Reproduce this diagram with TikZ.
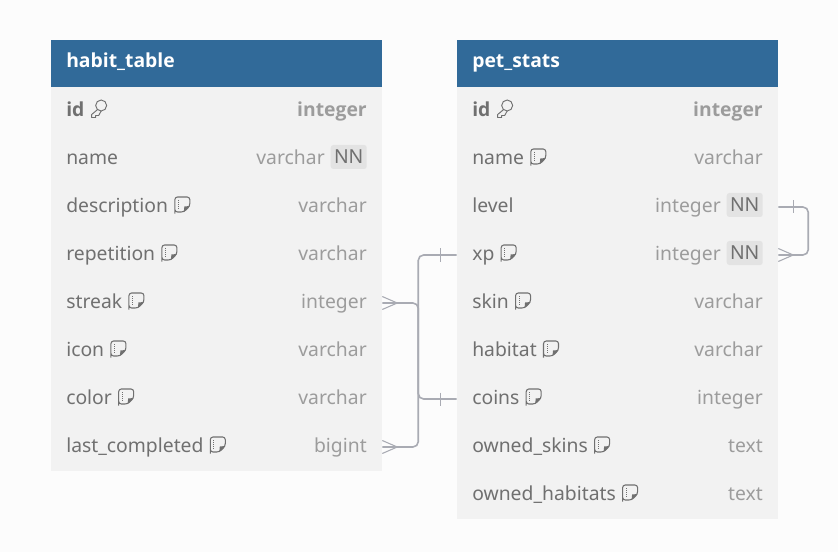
\documentclass[tikz,border=0pt]{standalone}
\usepackage{fontspec}
\setmainfont{Noto Sans}
\newfontfamily\headfont{Open Sans}[BoldFont={Open Sans Bold}]
\usetikzlibrary{calc}
\definecolor{tPage}{HTML}{FCFCFC}
\definecolor{tHead}{HTML}{316A99}
\definecolor{tBody}{HTML}{F2F2F2}
\definecolor{tName}{HTML}{707070}
\definecolor{tKind}{HTML}{9C9C9C}
\definecolor{tBadge}{HTML}{E3E3E3}
\definecolor{tLine}{HTML}{A9ABB3}
\tikzset{
  headbox/.style={fill=tHead, inner sep=0pt, minimum height=35.25pt},
  rowbox/.style={fill=tBody, inner sep=0pt, minimum height=36pt},
  headtext/.style={anchor=base west, inner sep=0pt, text=white, font=\fontsize{14.5}{16}\selectfont\headfont\bfseries},
  nametext/.style={anchor=base west, inner sep=0pt, text=tName, font=\fontsize{14.5}{16}\selectfont},
  kindtext/.style={anchor=base east, inner sep=0pt, text=tKind, font=\fontsize{14.5}{16}\selectfont},
  keyname/.style={nametext, font=\fontsize{14.5}{16}\selectfont\headfont\bfseries},
  keykind/.style={kindtext, font=\fontsize{14.5}{16}\selectfont\headfont\bfseries},
  badge/.style={fill=tBadge, rounded corners=2pt, inner sep=0pt, minimum width=27pt, minimum height=18pt,
    anchor=east, text=tName, font=\fontsize{14.5}{16}\selectfont},
  link/.style={draw=tLine, line width=1.2pt, rounded corners=4pt},
  footmark/.style={draw=tLine, line width=0.8pt},
  notemark/.pic={
    \draw[tName, line width=0.8pt, rounded corners=2pt] (0,0) -- (0,-14) -- (15,-14) -- (15,-5) -- (9,1) -- (0,1) -- cycle;
    \fill[tName] (15,-5) -- (9.5,-4.5) -- (9,1) -- cycle;
    \draw[tName, line width=0.5pt, densely dotted] (3.5,-11) -- (3.5,-2);
  },
  keymark/.pic={
    \draw[tName, line width=0.7pt] (9.5,-9) circle (5.5);
    \draw[tName, line width=0.7pt, line join=round] (6,-5) -- (0,0) -- (0,3) -- (4,3) -- (4,1) -- (7,1) -- (9.5,-3.5);
  }
}
\begin{document}
\begin{tikzpicture}[x=0.75pt, y=-0.75pt]
  \fill[tPage] (0,0) rectangle (838,552);
  % left table
  \node[headbox, minimum width=248.25pt] (habit-head) at (216.5,63.5) {};
  \node[headtext] (habit-title) at (66,68) {habit\_table};
  \foreach \row/\label/\kind [count=\i from 0] in {id/id/integer, name/name/varchar, description/description/varchar,
      repetition/repetition/varchar, streak/streak/integer, icon/icon/varchar, color/color/varchar,
      lastcompleted/last\_completed/bigint} {
    \node[rowbox, minimum width=248.25pt] (habit-\row) at (216.5,{111+48*\i}) {};
    \ifnum\i=0
      \node[keyname] (habit-\row-name) at (66,{116.5+48*\i}) {\label};
      \node[keykind] (habit-\row-kind) at (367,{116.5+48*\i}) {\kind};
    \else
      \node[nametext] (habit-\row-name) at (66,{116.5+48*\i}) {\label};
      \ifnum\i=1
        \node[kindtext] (habit-\row-kind) at (325,{116.5+48*\i}) {\kind};
      \else
        \node[kindtext] (habit-\row-kind) at (367,{116.5+48*\i}) {\kind};
      \fi
    \fi
  }
  \node[badge] (habit-name-nn) at (367,157) {NN};
  \pic at ($(habit-id-name.base east)+(7,-2)$) {keymark};
  \foreach \row in {description, repetition, streak, icon, color, lastcompleted}
    \pic at ($(habit-\row-name.base east)+(6.5,-1.5)$) {notemark};
  % right table
  \node[headbox, minimum width=240.75pt] (pet-head) at (617.5,63.5) {};
  \node[headtext] (pet-title) at (472,68) {pet\_stats};
  \foreach \row/\label/\kind [count=\i from 0] in {id/id/integer, name/name/varchar, level/level/integer, xp/xp/integer,
      skin/skin/varchar, habitat/habitat/varchar, coins/coins/integer, ownedskins/owned\_skins/text,
      ownedhabitats/owned\_habitats/text} {
    \node[rowbox, minimum width=240.75pt] (pet-\row) at (617.5,{111+48*\i}) {};
    \ifnum\i=0
      \node[keyname] (pet-\row-name) at (472,{116.5+48*\i}) {\label};
      \node[keykind] (pet-\row-kind) at (763,{116.5+48*\i}) {\kind};
    \else
      \node[nametext] (pet-\row-name) at (472,{116.5+48*\i}) {\label};
      \ifnum\i=2
        \node[kindtext] (pet-\row-kind) at (721,{116.5+48*\i}) {\kind};
      \else\ifnum\i=3
        \node[kindtext] (pet-\row-kind) at (721,{116.5+48*\i}) {\kind};
      \else
        \node[kindtext] (pet-\row-kind) at (763,{116.5+48*\i}) {\kind};
      \fi\fi
    \fi
  }
  \node[badge] (pet-level-nn) at (763,205) {NN};
  \node[badge] (pet-xp-nn) at (763,253) {NN};
  \pic at ($(pet-id-name.base east)+(7,-2)$) {keymark};
  \foreach \row in {name, xp, skin, habitat, coins, ownedskins, ownedhabitats}
    \pic at ($(pet-\row-name.base east)+(6.5,-1.5)$) {notemark};
  % links
  \draw[link] (habit-streak.east) -- ++(36,0) |- (pet-coins.west);
  \draw[link] (habit-lastcompleted.east) -- ++(36,0) |- (pet-xp.west);
  \draw[link] (pet-level.east) -- ++(30,0) |- (pet-xp.east);
  % crow feet and bars
  \foreach \row in {streak, lastcompleted} {
    \draw[footmark] ($(habit-\row.east)+(0,-6.5)$) -- ($(habit-\row.east)+(15,0)$) -- ($(habit-\row.east)+(0,6.5)$);
  }
  \foreach \row in {xp, coins}
    \draw[footmark] ($(pet-\row.west)+(-16,-6.5)$) -- ($(pet-\row.west)+(-16,6.5)$);
  \draw[footmark] ($(pet-xp.east)+(0,-6.5)$) -- ($(pet-xp.east)+(15,0)$) -- ($(pet-xp.east)+(0,6.5)$);
  \draw[footmark] ($(pet-level.east)+(15,-6.5)$) -- ($(pet-level.east)+(15,6.5)$);
\end{tikzpicture}
\end{document}
